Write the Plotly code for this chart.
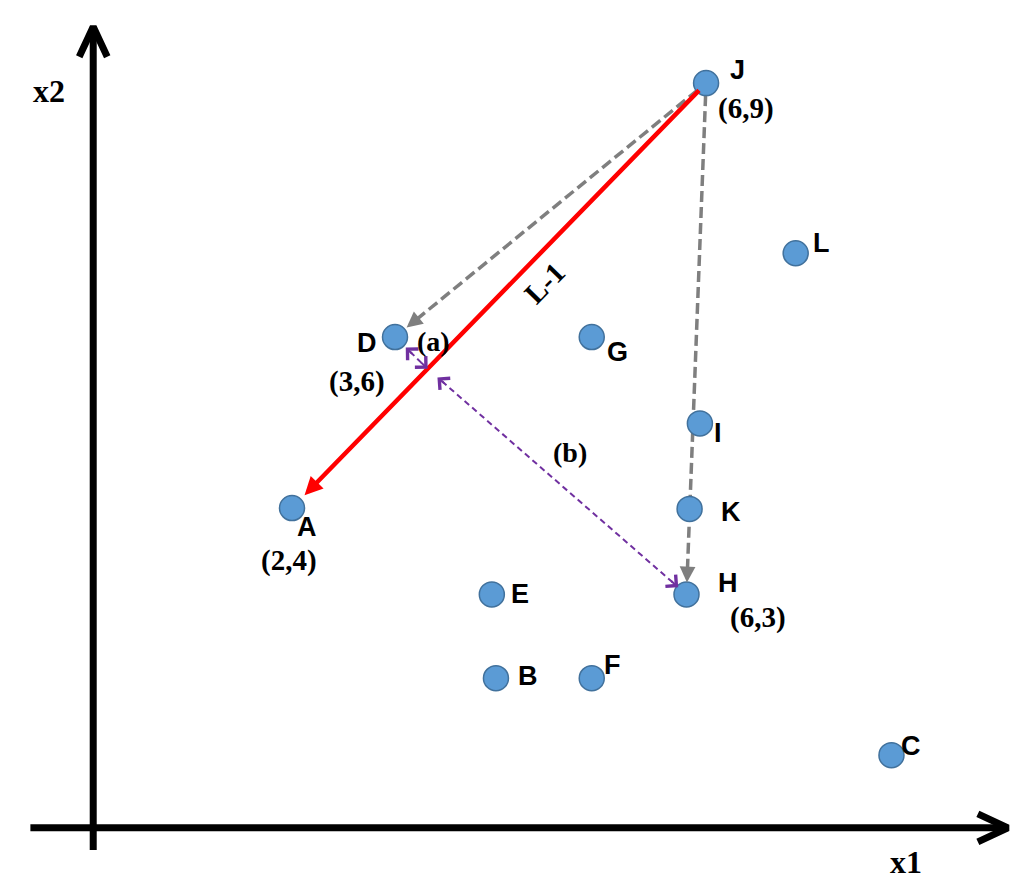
import math
import plotly.graph_objects as go

# ---------------- data ----------------
names = ["A", "B", "C", "D", "E", "F", "G", "H", "I", "J", "K", "L"]
x1_vals = [2.0, 3.98, 7.82, 3.0, 3.94, 4.91, 4.91, 5.83, 5.96, 6.02, 5.86, 6.89]
x2_vals = [4.0, 2.01, 1.11, 6.0, 2.99, 2.01, 6.0, 2.99, 4.99, 8.97, 3.99, 6.98]
coord_points = ["A", "D", "H", "J"]
coord_texts = ["(2,4)", "(3,6)", "(6,3)", "(6,9)"]
axis_titles = ["x1", "x2"]
line_label = "L-1"
dist_labels = ["(a)", "(b)"]

# ---------------- layout / style ----------------
W, H = 1024, 887
SX0 = 103.0
SY0 = 85.5
PAGE_OFF = 8  # body margin of the html page
XR = [-0.835 + PAGE_OFF / SX0, -0.835 + PAGE_OFF / SX0 + W / SX0]
YR = [9.942 - PAGE_OFF / SY0 - H / SY0, 9.942 - PAGE_OFF / SY0]
SX = W / (XR[1] - XR[0])
SY = H / (YR[1] - YR[0])
ORIGIN = (0.07, 0.26)
X_AXIS_SPAN = (-0.54, 8.95)
Y_AXIS_SPAN = (0.0, 9.63)

label_off = {"A": (15, 19), "B": (32, -2), "C": (20, -9), "D": (-28, 6), "E": (28, 0),
             "F": (21, -13), "G": (26, 15), "H": (41, -11), "I": (18, 10), "J": (31, -13),
             "K": (41, 3), "L": (26, -10)}
coord_off = {"A": (-3, 52), "D": (-38, 44), "H": (71, 23), "J": (40, 25)}

SANS = "Liberation Sans, Arial, sans-serif"
SERIF = "Liberation Serif, Times New Roman, serif"
GRAY = "#7F7F7F"
PURPLE = "#7030A0"
RED = "#FF0000"
LETTER_SIZE = 27
COORD_SIZE = 29

fig = go.Figure()


def P(n):
    i = names.index(n)
    return (x1_vals[i], x2_vals[i])


def unit_px(p0, p1):
    dx = (p1[0] - p0[0]) * SX
    dy = -(p1[1] - p0[1]) * SY
    L = math.hypot(dx, dy)
    return dx / L, dy / L, L


def move(p, u, s):
    return (p[0] + u[0] * s / SX, p[1] - u[1] * s / SY)


def line_trace(pts, color, width, dash="solid"):
    fig.add_trace(go.Scatter(x=[p[0] for p in pts], y=[p[1] for p in pts], mode="lines",
                             line=dict(color=color, width=width, dash=dash),
                             hoverinfo="skip", showlegend=False))


def head(tip, u, color, width, style, size, tail=14):
    fig.add_annotation(x=tip[0], y=tip[1], ax=-u[0] * tail, ay=-u[1] * tail,
                       axref="pixel", ayref="pixel", xref="x", yref="y",
                       showarrow=True, arrowhead=style, arrowsize=size,
                       arrowwidth=width, arrowcolor=color, text="")


def dashed_arrow(p0, p1, color, width, dash, s0, s1, style, size, both=False, tail=14):
    ux, uy, L = unit_px(p0, p1)
    u = (ux, uy)
    start = move(p0, u, s0)
    tip = move(p1, u, -s1)
    line_end = move(tip, u, -6)
    line_start = move(start, u, 6) if both else start
    line_trace([line_start, line_end], color, width, dash)
    head(tip, u, color, width, style, size, tail)
    if both:
        head(start, (-ux, -uy), color, width, style, size, tail)


def chevron(tip, u, length, half, color, width):
    back = move(tip, u, -length)
    n = (-u[1], u[0])
    a = move(back, n, half)
    b = move(back, n, -half)
    line_trace([a, tip, b], color, width)


# ---------------- axes ----------------
ya0 = (ORIGIN[0], Y_AXIS_SPAN[0])
ya1 = (ORIGIN[0], Y_AXIS_SPAN[1])
xa0 = (X_AXIS_SPAN[0], ORIGIN[1])
xa1 = (X_AXIS_SPAN[1], ORIGIN[1])
line_trace([ya0, ya1], "black", 7)
line_trace([xa0, xa1], "black", 7)
chevron(ya1, (0, -1), 30, 14, "black", 7)
chevron(xa1, (1, 0), 30, 14, "black", 7)

fig.add_annotation(x=xa1[0], y=xa1[1], xshift=-102, yshift=-34, text=axis_titles[0],
                   showarrow=False, font=dict(family=SERIF, size=32, color="black", weight="bold"))
fig.add_annotation(x=ya1[0], y=ya1[1], xshift=-44, yshift=-64, text=axis_titles[1],
                   showarrow=False, font=dict(family=SERIF, size=32, color="black", weight="bold"))

# ---------------- arrows ----------------
J, A, D, Hp = P("J"), P("A"), P("D"), P("H")

# gray dashed: J->D, J->H
dashed_arrow(J, D, GRAY, 3.5, "11px,5px", 11, 15, 2, 0.9)
dashed_arrow(J, Hp, GRAY, 3.5, "11px,5px", 12, 12, 2, 0.9)

# red solid J->A
ux, uy, L = unit_px(J, A)
r_start = move(J, (ux, uy), 8)
r_tip = move(A, (ux, uy), -18)
fig.add_annotation(x=r_tip[0], y=r_tip[1], ax=r_start[0], ay=r_start[1], axref="x", ayref="y",
                   xref="x", yref="y", showarrow=True, arrowhead=2, arrowsize=0.8,
                   arrowwidth=4.5, arrowcolor=RED, text="")

# foot of perpendicular from D onto J-A (in screen space)
dDx = (D[0] - J[0]) * SX
dDy = -(D[1] - J[1]) * SY
t = dDx * ux + dDy * uy
foot = move(J, (ux, uy), t)

# purple dashed double arrows
dashed_arrow(D, foot, PURPLE, 2, "6px,4px", 15, 0, 4, 1.5, both=True, tail=11)
dashed_arrow(foot, Hp, PURPLE, 2, "6px,4px", 13, 11, 4, 1.5, both=True, tail=11)

# L-1 label along red line (reads upward to the right)
text_ang = -math.degrees(math.atan2(uy, -ux))
lpos = move(J, (ux, uy), 0.431 * L)
fig.add_annotation(x=lpos[0], y=lpos[1], xshift=17, yshift=-17, text=line_label, showarrow=False,
                   textangle=text_ang,
                   font=dict(family=SERIF, size=29, color="black", weight="bold"))

fig.add_annotation(x=D[0], y=D[1], xshift=38, yshift=-4, text=dist_labels[0], showarrow=False,
                   font=dict(family=SERIF, size=28, color="black", weight="bold"))
mid = ((foot[0] + Hp[0]) / 2, (foot[1] + Hp[1]) / 2)
fig.add_annotation(x=mid[0], y=mid[1], xshift=13, yshift=29, text=dist_labels[1], showarrow=False,
                   font=dict(family=SERIF, size=28, color="black", weight="bold"))

# ---------------- points ----------------
fig.add_trace(go.Scatter(x=x1_vals, y=x2_vals, mode="markers",
                         marker=dict(size=25, color="#5B9BD5", line=dict(color="#41719C", width=1.5)),
                         hoverinfo="skip", showlegend=False))

for n in names:
    p = P(n)
    dx, dy = label_off[n]
    fig.add_annotation(x=p[0], y=p[1], xshift=dx, yshift=-dy, text=n, showarrow=False,
                       font=dict(family=SANS, size=LETTER_SIZE, color="black", weight="bold"))

for n, txt in zip(coord_points, coord_texts):
    p = P(n)
    dx, dy = coord_off[n]
    fig.add_annotation(x=p[0], y=p[1], xshift=dx, yshift=-dy, text=txt, showarrow=False,
                       font=dict(family=SERIF, size=COORD_SIZE, color="black", weight="bold"))

fig.update_layout(
    width=W, height=H, autosize=False,
    margin=dict(l=0, r=0, t=0, b=0),
    paper_bgcolor="white", plot_bgcolor="white",
    xaxis=dict(range=XR, visible=False, fixedrange=True),
    yaxis=dict(range=YR, visible=False, fixedrange=True),
    showlegend=False,
)

fig.write_html("out.html")
